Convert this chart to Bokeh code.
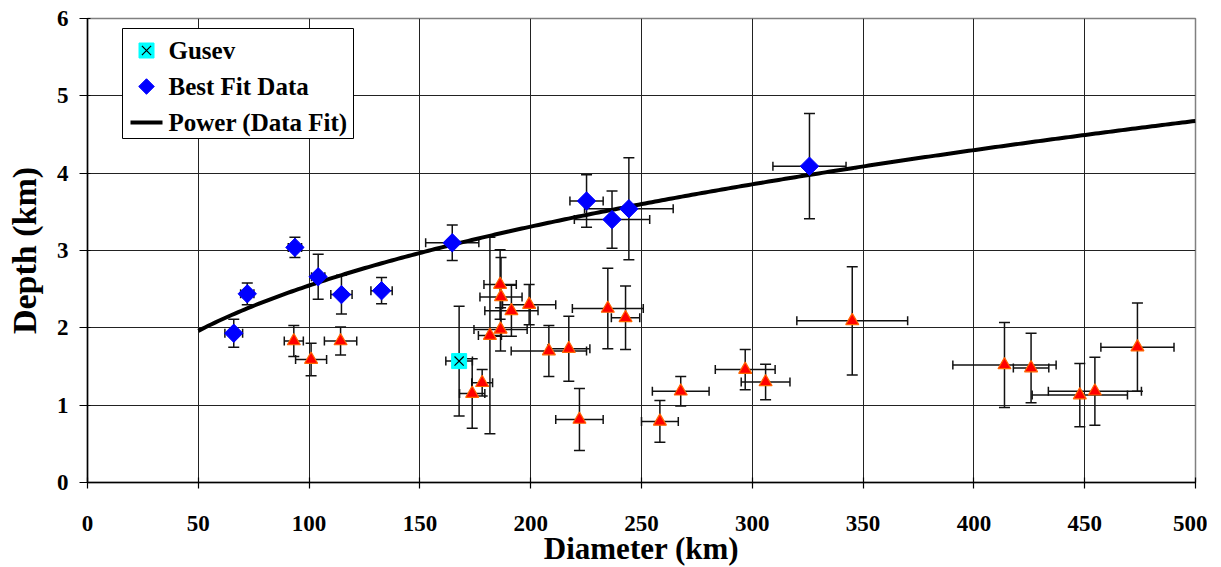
import numpy as np
from bokeh.plotting import figure
from bokeh.models import (ColumnDataSource, Whisker, TeeHead, FixedTicker,
                          BoxAnnotation, Label)
from bokeh.embed import file_html
from bokeh.resources import INLINE

# ---------------- data ----------------
# Best Fit Data (blue diamonds)
fit_diam = [66.0, 72.1, 93.6, 104.1, 114.6, 132.7, 164.6, 225.2, 236.7, 244.3, 325.8]
fit_depth = [1.93, 2.44, 3.04, 2.66, 2.43, 2.48, 3.10, 3.64, 3.40, 3.54, 4.09]
fit_depth_err = [0.18, 0.14, 0.13, 0.29, 0.25, 0.17, 0.23, 0.34, 0.37, 0.66, 0.68]
fit_diam_err = [4.0, 3.0, 3.0, 3.0, 4.8, 4.8, 12.0, 7.5, 17.0, 20.0, 16.5]

# Gusev (cyan square with cross)
gusev_diam = [167.7]
gusev_depth = [1.57]
gusev_depth_err = [0.71]
gusev_diam_err = [6.0]

# Other craters (red triangles)
tri_diam = [93.1, 100.9, 114.2, 178.1, 173.6, 181.6, 186.4, 186.2, 186.6, 191.3,
            199.3, 208.2, 217.2, 234.8, 242.8, 222.0, 258.3, 267.7, 296.8, 306.0,
            345.1, 413.8, 425.8, 447.8, 454.6, 473.8]
tri_depth = [1.83, 1.59, 1.83, 1.29, 1.15, 1.90, 1.98, 2.56, 2.40, 2.22,
             2.30, 1.70, 1.73, 2.25, 2.13, 0.815, 0.79, 1.18, 1.46, 1.30,
             2.09, 1.52, 1.48, 1.13, 1.18, 1.75]
tri_depth_err = [0.20, 0.21, 0.18, 0.17, 0.45, 1.27, 0.28, 0.45, 0.51, 0.33,
                 0.26, 0.33, 0.42, 0.52, 0.41, 0.40, 0.27, 0.19, 0.26, 0.23,
                 0.70, 0.55, 0.45, 0.41, 0.44, 0.57]
tri_diam_err = [4.3, 7.0, 7.3, 4.7, 5.7, 5.2, 12.0, 7.3, 9.5, 12.0,
                12.0, 17.0, 9.5, 16.0, 6.4, 10.7, 8.3, 12.8, 13.5, 11.0,
                25.0, 23.3, 8.0, 21.5, 21.0, 16.5]

legend_labels = ["Gusev", "Best Fit Data", "Power (Data Fit)"]

x_ticks = [0, 50, 100, 150, 200, 250, 300, 350, 400, 450, 500]
y_ticks = [0, 1, 2, 3, 4, 5, 6]
fit_line_start, fit_line_end = 50, 500

FONT = "Liberation Serif"
X_MAX, Y_MAX = 500, 6
FW, FH = 1108, 464


def make_src(d, z, dz, dd):
    d = np.array(d, float); z = np.array(z, float)
    dz = np.array(dz, float); dd = np.array(dd, float)
    return ColumnDataSource(dict(x=d, y=z, ylo=z - dz, yhi=z + dz,
                                 xlo=d - dd, xhi=d + dd))


src_fit = make_src(fit_diam, fit_depth, fit_depth_err, fit_diam_err)
src_gus = make_src(gusev_diam, gusev_depth, gusev_depth_err, gusev_diam_err)
src_tri = make_src(tri_diam, tri_depth, tri_depth_err, tri_diam_err)

# power-law fit (least squares in log space) of Best Fit Data
b, lna = np.polyfit(np.log(fit_diam), np.log(fit_depth), 1)
xs = np.linspace(fit_line_start, fit_line_end, 300)
ys = np.exp(lna) * xs ** b

p = figure(frame_width=FW, frame_height=FH, x_range=(0, X_MAX), y_range=(0, Y_MAX),
           output_backend="svg", toolbar_location=None,
           min_border_left=87, min_border_right=12, min_border_top=18,
           min_border_bottom=60, background_fill_color="white")

p.outline_line_color = "#808080"
p.outline_line_width = 1.5

for ax in (p.xaxis[0], p.yaxis[0]):
    ax.axis_line_color = "black"
    ax.axis_line_width = 1.5
    ax.major_tick_line_color = "black"
    ax.major_tick_line_width = 1.2
    ax.minor_tick_line_color = None
    ax.major_label_text_font = FONT
    ax.major_label_text_font_style = "bold"
    ax.major_label_text_font_size = "23px"
    ax.major_label_text_color = "black"
    ax.axis_label_text_font = FONT
    ax.axis_label_text_font_style = "bold"
    ax.axis_label_text_color = "black"

p.xaxis.axis_label_text_font_size = "31px"
p.yaxis.axis_label_text_font_size = "34px"
p.xaxis.ticker = FixedTicker(ticks=x_ticks)
p.yaxis.ticker = FixedTicker(ticks=y_ticks)
p.xaxis.axis_label = "Diameter (km)"
p.yaxis.axis_label = "Depth (km)"
p.xaxis.major_tick_out = 6
p.xaxis.major_tick_in = 5
p.yaxis.major_tick_out = 8
p.yaxis.major_tick_in = 3
p.xaxis.major_label_standoff = 27
p.yaxis.major_label_standoff = 11
p.xaxis.axis_label_standoff = -3
p.yaxis.axis_label_standoff = 11

p.xgrid.ticker = FixedTicker(ticks=x_ticks)
p.ygrid.ticker = FixedTicker(ticks=y_ticks)
for g in (p.xgrid[0], p.ygrid[0]):
    g.grid_line_color = "#222222"
    g.grid_line_width = 1
    g.level = "image"

# error bars
for src in (src_tri, src_gus, src_fit):
    wy = Whisker(source=src, base="x", lower="ylo", upper="yhi", dimension="height",
                 line_color="#111111", line_width=1.5, level="underlay",
                 upper_head=TeeHead(size=11, line_color="#111111", line_width=1.5),
                 lower_head=TeeHead(size=11, line_color="#111111", line_width=1.5))
    wx = Whisker(source=src, base="y", lower="xlo", upper="xhi", dimension="width",
                 line_color="#111111", line_width=1.5, level="underlay",
                 upper_head=TeeHead(size=9, line_color="#111111", line_width=1.5),
                 lower_head=TeeHead(size=9, line_color="#111111", line_width=1.5))
    p.add_layout(wy)
    p.add_layout(wx)

# power fit line
p.line(xs, ys, line_color="black", line_width=4)

# markers
p.scatter("x", "y", source=src_tri, marker="triangle", size=13,
          fill_color="#FF0000", line_color="#FF6600", line_width=1.2)
p.scatter("x", "y", source=src_fit, marker="square", angle=np.pi / 4,
          size=13, fill_color="#0000FF", line_color="#0000FF", line_width=1)
p.scatter("x", "y", source=src_gus, marker="square", size=15,
          fill_color="#00FFFF", line_color="#00FFFF")
p.scatter("x", "y", source=src_gus, marker="x", size=13,
          line_color="black", line_width=1.2)

# ---------------- legend (drawn from parts, frame-relative pixels) ----------------
def px2x(px):
    return px / FW * X_MAX


def py2y(py):
    return Y_MAX - py / FH * Y_MAX


LEG_L, LEG_R, LEG_T, LEG_B = 35, 266, 10, 120
ROW_Y = [32, 68, 104]
GLYPH_CX, GLYPH_X0, GLYPH_X1, TEXT_X = 59, 43, 75, 81

p.add_layout(BoxAnnotation(left=px2x(LEG_L), right=px2x(LEG_R),
                           top=py2y(LEG_T), bottom=py2y(LEG_B),
                           fill_color="white", fill_alpha=1,
                           line_color="black", line_width=1, line_alpha=1,
                           level="underlay"))

# Gusev symbol
p.scatter(x=[px2x(GLYPH_CX)], y=[py2y(ROW_Y[0])], marker="square", size=15,
          fill_color="#00FFFF", line_color="#00FFFF")
p.scatter(x=[px2x(GLYPH_CX)], y=[py2y(ROW_Y[0])], marker="x", size=13,
          line_color="black", line_width=1.2)
# Best Fit Data symbol
p.scatter(x=[px2x(GLYPH_CX)], y=[py2y(ROW_Y[1])], marker="square", angle=np.pi / 4,
          size=11, fill_color="#0000FF", line_color="#0000FF")
# Power line symbol
p.line(x=[px2x(GLYPH_X0), px2x(GLYPH_X1)], y=[py2y(ROW_Y[2])] * 2,
       line_color="black", line_width=4)

for lab, ry in zip(legend_labels, ROW_Y):
    p.add_layout(Label(x=px2x(TEXT_X), y=py2y(ry), text=lab,
                       text_font=FONT, text_font_style="bold",
                       text_font_size="25px", text_color="black",
                       text_baseline="middle", text_align="left"))

open("out.html", "w").write(file_html(p, INLINE))
